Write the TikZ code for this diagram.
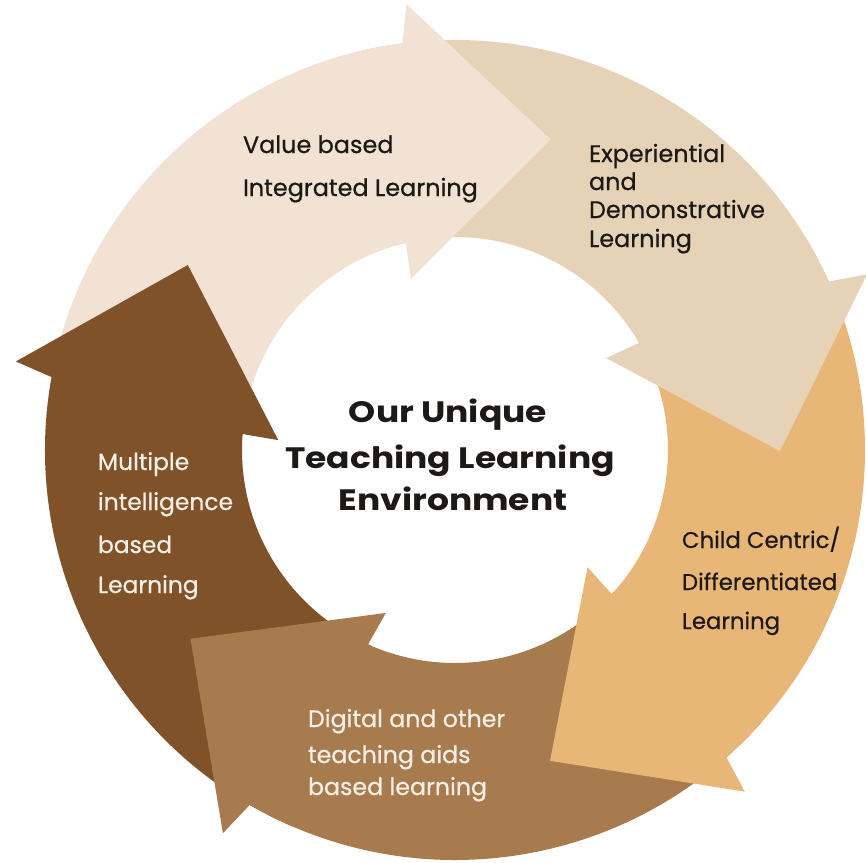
\documentclass[tikz,border=0pt]{standalone}
\usepackage{fontspec}
\setmainfont{Poppins}[FakeBold=0.6]
\newfontfamily\ctrfont{Poppins}[FakeStretch=1.17]
\definecolor{lightc}{HTML}{F1E2D4}
\definecolor{peachc}{HTML}{E6D3B7}
\definecolor{orangec}{HTML}{E8B677}
\definecolor{digitalc}{HTML}{A87B4F}
\definecolor{brownc}{HTML}{7F5229}
\definecolor{textdark}{HTML}{1C1917}
\definecolor{textlight}{HTML}{F7EFE6}
% #1 colour, #2 tail angle, #3 inner barb angle
\newcommand\ringarrow[3]{%
  \fill[#1] (#2:410) arc[start angle=#2, end angle={#3-7.05}, radius=410]
    -- ({#3-8.2}:448) -- ({#3-31.5}:325) -- (#3:177) -- ({#3-1.1}:213)
    arc[start angle={#3-1.1}, end angle=#2, radius=213] -- cycle;}
\tikzset{
  lbl/.style={anchor=base west, inner sep=0pt, outer sep=0pt},
  dark/.style={text=textdark},
  lite/.style={text=textlight},
}
\begin{document}
\begin{tikzpicture}[x=1pt,y=1pt]
\fill[white] (0,0) rectangle (866,-862);
\useasboundingbox (0,0) rectangle (866,-862);
\begin{scope}[shift={(455,-450)}]
  \ringarrow{lightc}{176.8}{104.4}
  \ringarrow{brownc}{247}{176.8}
  \ringarrow{digitalc}{-41.5}{-113}
  \ringarrow{orangec}{31.3}{-41.5}
  \ringarrow{peachc}{104.4}{31.3}
  \begin{scope}
    \clip (-150,-500) rectangle (500,500);
    \ringarrow{lightc}{176.8}{104.4}
  \end{scope}
\end{scope}
\begin{scope}[font=\fontsize{23.9}{28}\selectfont]
  \node[lbl,dark] (v1) at (243,-153) {Value based};
  \node[lbl,dark] (v2) at (243,-196) {Integrated Learning};
\end{scope}
\begin{scope}[font=\fontsize{23.9}{28}\selectfont]
  \node[lbl,dark] (e1) at (589,-162) {Experiential};
  \node[lbl,dark] (e2) at (589,-190) {and};
  \node[lbl,dark] (e3) at (589,-218) {Demonstrative};
  \node[lbl,dark] (e4) at (589,-247) {Learning};
\end{scope}
\begin{scope}[font=\ctrfont\fontsize{29.5}{34}\selectfont\bfseries]
  \node[anchor=base, inner sep=0pt, dark] (c1) at (448,-422) {Our Unique};
  \node[anchor=base, inner sep=0pt, dark] (c2) at (450,-468) {Teaching Learning};
  \node[anchor=base, inner sep=0pt, dark] (c3) at (453,-510) {Environment};
\end{scope}
\begin{scope}[font=\fontsize{22.8}{27}\selectfont]
  \node[lbl,dark] (d1) at (682,-548) {Child Centric/};
  \node[lbl,dark] (d2) at (682,-590) {Differentiated};
  \node[lbl,dark] (d3) at (682,-629) {Learning};
\end{scope}
\begin{scope}[font=\fontsize{23.7}{28}\selectfont]
  \node[lbl,lite] (g1) at (308,-727) {Digital and other};
  \node[lbl,lite] (g2) at (308,-763) {teaching aids};
  \node[lbl,lite] (g3) at (308,-795) {based learning};
\end{scope}
\begin{scope}[font=\fontsize{23.4}{28}\selectfont]
  \node[lbl,lite] (m1) at (98,-470) {Multiple};
  \node[lbl,lite] (m2) at (98,-510) {intelligence};
  \node[lbl,lite] (m3) at (98,-553) {based};
  \node[lbl,lite] (m4) at (98,-593) {Learning};
\end{scope}
\end{tikzpicture}
\end{document}
